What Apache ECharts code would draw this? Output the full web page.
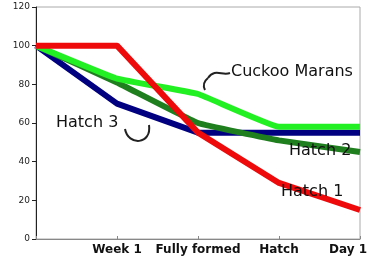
<!DOCTYPE html>
<html>
<head>
<meta charset="utf-8">
<script src="https://cdn.jsdelivr.net/npm/echarts@6/dist/echarts.min.js"></script>
<style>html,body{margin:0;padding:0;background:#fff}#c{width:367px;height:259px}</style>
</head>
<body>
<div id="c"></div>
<script>
var categories = ["", "Week 1", "Fully formed", "Hatch", "Day 1"];
var hatch1 = [100, 100, 55, 29, 15];
var hatch2 = [100, 81, 60, 51, 45];
var hatch3 = [100, 70, 55, 55, 55];
var cuckoo = [100, 83, 75, 58, 58];
var yTicks = [0, 20, 40, 60, 80, 100, 120];

var chart = echarts.init(document.getElementById('c'), null, {renderer: 'canvas'});
function line(name, data, color, z, smooth) {
  return {name: name, type: 'line', data: data, symbol: 'none', smooth: smooth, z: z,
    lineStyle: {color: color, width: 6, cap: 'butt', join: 'round'}};
}
var font = 'DejaVu Sans';
chart.setOption({
  animation: false,
  grid: {left: 36, right: 7, top: 7, bottom: 20, containLabel: false, outerBoundsMode: 'none',
    show: true, borderColor: '#aaaaaa', borderWidth: 1, backgroundColor: '#fff'},
  xAxis: {type: 'category', data: categories, boundaryGap: false,
    axisLine: {lineStyle: {color: '#888', width: 1}},
    axisTick: {inside: true, length: 3, lineStyle: {color: '#888'}},
    axisLabel: {color: '#111', fontFamily: font, fontWeight: 'bold', fontSize: 12, margin: 5, interval: 0, hideOverlap: false,
      alignMaxLabel: 'right',
      formatter: function (v, i) { return i === categories.length - 1 ? '{d|' + v + '}' : v; },
      rich: {d: {fontFamily: font, fontWeight: 'bold', fontSize: 12, color: '#111', padding: [0, -7, 0, 0]}}}},
  yAxis: {type: 'value', min: yTicks[0], max: yTicks[yTicks.length - 1], interval: 20,
    axisLine: {show: true, lineStyle: {color: '#222', width: 1}},
    axisTick: {show: true, length: 4, lineStyle: {color: '#222'}},
    splitLine: {show: false},
    axisLabel: {color: '#222', fontFamily: font, fontSize: 9, margin: 6}},
  series: [
    line('Hatch 3', hatch3, '#000080', 2, false),
    line('Hatch 2', hatch2, '#1f7f1f', 3, 0.08),
    line('Cuckoo Marans', cuckoo, '#22f022', 4, 0.08),
    line('Hatch 1', hatch1, '#ee0a0a', 5, false)
  ],
  graphic: [
    {type: 'text', left: 231, top: 64, style: {text: 'Cuckoo Marans', font: '16px "DejaVu Sans"', fill: '#111'}, z: 10},
    {type: 'text', left: 56, top: 115, style: {text: 'Hatch 3', font: '16px "DejaVu Sans"', fill: '#111'}, z: 10},
    {type: 'text', left: 289, top: 143, style: {text: 'Hatch 2', font: '16px "DejaVu Sans"', fill: '#111'}, z: 10},
    {type: 'text', left: 281, top: 184, style: {text: 'Hatch 1', font: '16px "DejaVu Sans"', fill: '#111'}, z: 10},
    {type: 'bezierCurve', shape: {x1: 230, y1: 73, x2: 208, y2: 78, cpx1: 222, cpy1: 76, cpx2: 215, cpy2: 68}, style: {stroke: '#222', lineWidth: 2, fill: null}, z: 10},
    {type: 'bezierCurve', shape: {x1: 208, y1: 78, x2: 205, y2: 90, cpx1: 203, cpy1: 82, cpx2: 203, cpy2: 86}, style: {stroke: '#222', lineWidth: 2, fill: null}, z: 10},
    {type: 'bezierCurve', shape: {x1: 125, y1: 129, x2: 149, y2: 125, cpx1: 128, cpy1: 146, cpx2: 152, cpy2: 145}, style: {stroke: '#222', lineWidth: 2, fill: null}, z: 10}
  ]
});
</script>
</body>
</html>
